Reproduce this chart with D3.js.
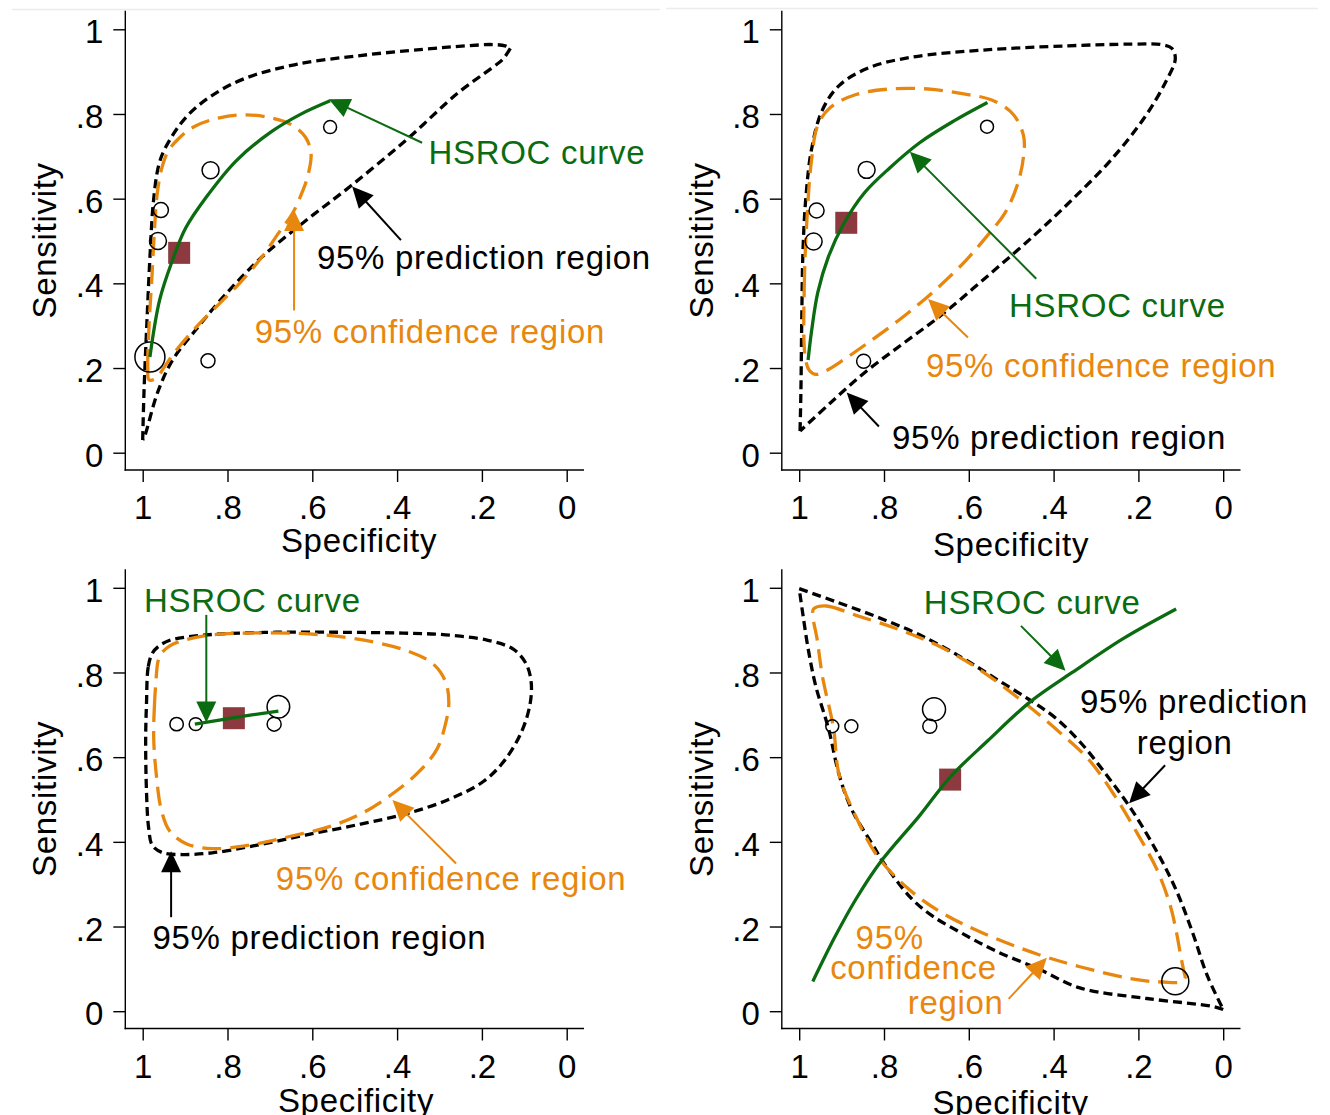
<!DOCTYPE html>
<html><head><meta charset="utf-8">
<script src="https://cdn.jsdelivr.net/npm/d3@7"></script>
<style>
html,body{margin:0;padding:0;background:#fff;}
svg{display:block;font-family:"Liberation Sans",Arial,sans-serif;}
</style></head><body>
<svg id="chart" width="1330" height="1115"></svg>
<script>
// ---------------- DATA ----------------
const tickValues = [0, 0.2, 0.4, 0.6, 0.8, 1];
const xTitle = "Specificity";
const yTitle = "Sensitivity";

// studies: [specificity, sensitivity, weight]
const p1Studies = [[0.983,0.226,225],[0.558,0.769,42],[0.840,0.667,72],[0.957,0.573,56],[0.964,0.500,72],[0.846,0.217,49]];
const p2Studies = [[0.557,0.770,42],[0.841,0.668,72],[0.959,0.572,56],[0.966,0.499,72],[0.848,0.216,49]];
const p3Studies = [[0.920,0.678,45],[0.875,0.678,42],[0.690,0.678,49],[0.680,0.719,128]];
const p4Studies = [[0.922,0.673,42],[0.877,0.673,42],[0.692,0.673,49],[0.682,0.713,132],[0.113,0.071,182]];

// summary points [specificity, sensitivity]
const p1Summary = [0.914, 0.472];
const p2Summary = [0.889, 0.543];
const p3Summary = [0.785, 0.692];
const p4Summary = [0.644, 0.547];

// HSROC curves
const p1Curve = [[0.983,0.226],[0.960,0.361],[0.930,0.454],[0.899,0.530],[0.849,0.605],[0.779,0.690],[0.698,0.757],[0.628,0.799],[0.558,0.831]];
const p2Curve = [[0.979,0.219],[0.971,0.286],[0.956,0.379],[0.931,0.463],[0.896,0.539],[0.846,0.614],[0.786,0.673],[0.716,0.732],[0.636,0.783],[0.556,0.827]];
const p3Curve = [[0.877,0.678],[0.780,0.694],[0.680,0.709]];
const p4Curve = [[0.968,0.070],[0.916,0.175],[0.866,0.265],[0.810,0.350],[0.716,0.462],[0.644,0.553],[0.556,0.638],[0.456,0.730],[0.356,0.800],[0.236,0.880],[0.111,0.950]];

// 95% confidence regions (closed)
const p1Conf = [[0.985,0.172],[0.988,0.200],[0.985,0.300],[0.978,0.420],[0.972,0.530],[0.966,0.610],[0.955,0.672],[0.940,0.712],[0.915,0.742],[0.879,0.770],[0.819,0.791],[0.759,0.798],[0.698,0.791],[0.648,0.774],[0.616,0.745],[0.603,0.707],[0.610,0.656],[0.626,0.610],[0.648,0.563],[0.678,0.521],[0.719,0.462],[0.769,0.403],[0.819,0.352],[0.869,0.302],[0.920,0.243],[0.950,0.201],[0.968,0.176]];
const p2Conf = [[0.986,0.227],[0.988,0.396],[0.981,0.564],[0.971,0.690],[0.956,0.774],[0.926,0.816],[0.866,0.846],[0.786,0.859],[0.696,0.859],[0.616,0.848],[0.546,0.833],[0.496,0.800],[0.471,0.749],[0.471,0.699],[0.486,0.631],[0.516,0.564],[0.556,0.513],[0.606,0.455],[0.676,0.387],[0.756,0.320],[0.836,0.261],[0.896,0.219],[0.936,0.194],[0.961,0.185],[0.976,0.194]];
const p3Conf = [[0.966,0.813],[0.972,0.728],[0.974,0.644],[0.968,0.560],[0.956,0.475],[0.936,0.425],[0.896,0.395],[0.836,0.384],[0.756,0.391],[0.656,0.412],[0.556,0.437],[0.476,0.471],[0.406,0.517],[0.346,0.568],[0.306,0.619],[0.286,0.678],[0.278,0.728],[0.286,0.779],[0.316,0.821],[0.376,0.851],[0.456,0.872],[0.556,0.887],[0.656,0.893],[0.756,0.893],[0.836,0.889],[0.896,0.878],[0.936,0.863],[0.956,0.845],[0.964,0.826]];
const p4Conf = [[0.966,0.950],[0.936,0.957],[0.866,0.935],[0.766,0.902],[0.666,0.860],[0.566,0.801],[0.466,0.726],[0.386,0.659],[0.316,0.593],[0.256,0.509],[0.206,0.426],[0.156,0.334],[0.125,0.250],[0.111,0.190],[0.100,0.130],[0.093,0.095],[0.090,0.078],[0.101,0.069],[0.142,0.069],[0.169,0.070],[0.224,0.078],[0.338,0.105],[0.436,0.134],[0.566,0.184],[0.666,0.234],[0.746,0.292],[0.816,0.367],[0.866,0.459],[0.906,0.559],[0.919,0.668],[0.945,0.790],[0.958,0.880],[0.968,0.935]];

// 95% prediction regions (as open edges between sharp tips)
const p1PredUpper = [[1.000,0.030],[0.997,0.142],[0.990,0.310],[0.982,0.479],[0.975,0.590],[0.962,0.680],[0.945,0.723],[0.899,0.791],[0.839,0.842],[0.759,0.884],[0.638,0.917],[0.487,0.938],[0.337,0.953],[0.236,0.961],[0.176,0.964],[0.145,0.961],[0.133,0.955]];
const p1PredLower = [[0.133,0.955],[0.150,0.930],[0.176,0.909],[0.256,0.850],[0.377,0.740],[0.508,0.631],[0.618,0.546],[0.719,0.462],[0.809,0.369],[0.879,0.285],[0.930,0.218],[0.965,0.142],[0.995,0.040],[1.000,0.030]];
const p2Pred = [[0.998,0.051],[0.996,0.143],[0.994,0.311],[0.991,0.480],[0.984,0.606],[0.971,0.716],[0.946,0.808],[0.906,0.867],[0.836,0.909],[0.736,0.934],[0.566,0.951],[0.366,0.961],[0.216,0.965],[0.146,0.964],[0.121,0.955],[0.113,0.930],[0.136,0.875],[0.186,0.791],[0.266,0.690],[0.356,0.598],[0.446,0.513],[0.556,0.417],[0.666,0.324],[0.756,0.257],[0.846,0.189],[0.926,0.118],[0.998,0.051]];
const p3Pred = [[0.977,0.846],[0.987,0.813],[0.991,0.728],[0.993,0.644],[0.991,0.517],[0.986,0.433],[0.977,0.391],[0.952,0.374],[0.906,0.370],[0.836,0.374],[0.736,0.391],[0.616,0.416],[0.486,0.442],[0.376,0.467],[0.276,0.501],[0.196,0.543],[0.146,0.593],[0.106,0.661],[0.086,0.728],[0.084,0.779],[0.096,0.821],[0.126,0.855],[0.186,0.876],[0.286,0.889],[0.386,0.893],[0.536,0.895],[0.686,0.895],[0.816,0.891],[0.896,0.884],[0.936,0.876],[0.961,0.863]];
const p4PredUpper = [[1.000,0.998],[0.916,0.968],[0.816,0.931],[0.716,0.889],[0.616,0.835],[0.536,0.785],[0.456,0.735],[0.396,0.693],[0.336,0.634],[0.276,0.559],[0.216,0.476],[0.156,0.376],[0.110,0.284],[0.072,0.185],[0.038,0.085],[0.000,0.004]];
const p4PredLower = [[0.000,0.004],[0.023,0.011],[0.180,0.030],[0.338,0.055],[0.436,0.100],[0.536,0.142],[0.616,0.184],[0.686,0.225],[0.736,0.267],[0.801,0.351],[0.826,0.392],[0.876,0.476],[0.906,0.559],[0.931,0.668],[0.961,0.768],[0.978,0.851],[0.991,0.935],[1.000,0.998]];

// annotation labels and arrows (in specificity/sensitivity units)
const p1Labels = [["HSROC curve","g",0.326,0.683],["95% prediction region","k",0.589,0.434],["95% confidence region","o",0.736,0.258]];
const p1Arrows = [["g",0.341,0.732,0.561,0.835],["k",0.391,0.502,0.506,0.629],["o",0.643,0.336,0.643,0.573]];
const p2Labels = [["HSROC curve","g",0.505,0.320],["95% confidence region","o",0.701,0.178],["95% prediction region","k",0.781,0.009]];
const p2Arrows = [["g",0.441,0.411,0.739,0.711],["o",0.602,0.272,0.696,0.363],["k",0.812,0.062,0.888,0.142]];
const p3Labels = [["HSROC curve","g",0.997,0.943],["95% confidence region","o",0.686,0.286],["95% prediction region","k",0.977,0.147]];
const p3Arrows = [["g",0.850,0.936,0.850,0.682],["o",0.261,0.349,0.411,0.499],["k",0.933,0.222,0.933,0.378]];
const p4Labels = [["HSROC curve","g",0.706,0.937],["95% prediction","k",0.338,0.705],["region","k",0.204,0.608],["95%","o",0.867,0.147],["confidence","o",0.927,0.075],["region","o",0.744,-0.006]];
const p4Arrows = [["g",0.477,0.910,0.372,0.804],["k",0.137,0.581,0.222,0.491],["o",0.506,0.029,0.416,0.126]];

// ---------------- DRAWING ----------------
const COLORS = {g:"#0b6b10", k:"#000000", o:"#e8870e"};
const SQUARE = "#8c3a40";
const FS = 33, LS = 0.7;

const panels = [
  {dx:0, dy:0, studies:p1Studies, summary:p1Summary, curve:p1Curve, conf:p1Conf, pred:[p1PredUpper,p1PredLower], labels:p1Labels, arrows:p1Arrows, xTitleX:359, xTitleY:551.5},
  {dx:656.5, dy:0, studies:p2Studies, summary:p2Summary, curve:p2Curve, conf:p2Conf, pred:[p2Pred], labels:p2Labels, arrows:p2Arrows, xTitleX:354.5, xTitleY:556},
  {dx:0, dy:558.5, studies:p3Studies, summary:p3Summary, curve:p3Curve, conf:p3Conf, predClosed:p3Pred, labels:p3Labels, arrows:p3Arrows, xTitleX:356, xTitleY:553},
  {dx:656.5, dy:558.5, studies:p4Studies, summary:p4Summary, curve:p4Curve, conf:p4Conf, pred:[p4PredUpper,p4PredLower], labels:p4Labels, arrows:p4Arrows, xTitleX:354, xTitleY:555}
];

const L = {x0:142.7, x1:566.7, y0:452.7, y1:29.3, axisX:125.3, axisY:470, axisTop:10.7, axisRight:584};
const svg = d3.select("#chart");

// faint top border lines
svg.append("line").attr("x1",12).attr("x2",660).attr("y1",9.5).attr("y2",9.5).attr("stroke","#ececec").attr("stroke-width",1.5);
svg.append("line").attr("x1",666).attr("x2",1318).attr("y1",8.5).attr("y2",8.5).attr("stroke","#ececec").attr("stroke-width",1.5);

const fmt = d => d === 0 ? "0" : d === 1 ? "1" : d3.format(".1f")(d).replace(/^0/, "");
const rScale = d3.scaleSqrt().domain([0, 225]).range([0, 15]);

function drawArrow(g, x1, y1, x2, y2, color) {
  const dx = x2 - x1, dy = y2 - y1, len = Math.hypot(dx, dy);
  const ux = dx / len, uy = dy / len, hl = 21, hw = 10;
  const bx = x2 - ux * hl, by = y2 - uy * hl;
  g.append("line").attr("x1", x1).attr("y1", y1).attr("x2", bx + ux*2).attr("y2", by + uy*2)
    .attr("stroke", color).attr("stroke-width", 2);
  g.append("path")
    .attr("d", `M${x2},${y2}L${bx - uy*hw},${by + ux*hw}L${bx + uy*hw},${by - ux*hw}Z`)
    .attr("fill", color);
}

panels.forEach(p => {
  const g = svg.append("g").attr("transform", `translate(${p.dx},${p.dy})`);
  const x = d3.scaleLinear().domain([1, 0]).range([L.x0, L.x1]);
  const y = d3.scaleLinear().domain([0, 1]).range([L.y0, L.y1]);

  // axes
  const ay = g.append("g").attr("transform", `translate(${L.axisX},0)`)
    .call(d3.axisLeft(y).tickValues(tickValues).tickSize(12).tickPadding(10).tickFormat(fmt));
  const ax = g.append("g").attr("transform", `translate(0,${L.axisY})`)
    .call(d3.axisBottom(x).tickValues(tickValues).tickSize(12).tickPadding(14).tickFormat(fmt));
  [ay, ax].forEach(a => {
    a.select(".domain").remove();
    a.attr("font-size", null).attr("font-family", null);
    a.selectAll("line").attr("stroke", "#000").attr("stroke-width", 1.4);
    a.selectAll("text").attr("font-size", FS).attr("fill", "#000");
  });
  ay.selectAll("text").attr("dy", "0.41em");
  g.append("line").attr("x1", L.axisX).attr("x2", L.axisX).attr("y1", L.axisTop).attr("y2", L.axisY + 0.7)
    .attr("stroke", "#000").attr("stroke-width", 1.4);
  g.append("line").attr("x1", L.axisX - 0.7).attr("x2", L.axisRight).attr("y1", L.axisY).attr("y2", L.axisY)
    .attr("stroke", "#000").attr("stroke-width", 1.4);

  // titles
  g.append("text").attr("x", p.xTitleX).attr("y", p.xTitleY).attr("text-anchor", "middle")
    .attr("font-size", FS).attr("letter-spacing", LS).text(xTitle);
  g.append("text").attr("transform", `translate(56,${(L.axisTop + L.axisY) / 2}) rotate(-90)`)
    .attr("text-anchor", "middle").attr("font-size", FS).attr("letter-spacing", LS).text(yTitle);

  const lineOpen = d3.line().x(d => x(d[0])).y(d => y(d[1])).curve(d3.curveCatmullRom.alpha(0.5));
  const lineClosed = d3.line().x(d => x(d[0])).y(d => y(d[1])).curve(d3.curveCatmullRomClosed.alpha(0.5));

  // prediction region
  if (p.pred) {
    p.pred.forEach(seg => g.append("path").attr("d", lineOpen(seg)).attr("fill", "none")
      .attr("stroke", "#000").attr("stroke-width", 3.3).attr("stroke-dasharray", "9,5"));
  } else {
    g.append("path").attr("d", lineClosed(p.predClosed)).attr("fill", "none")
      .attr("stroke", "#000").attr("stroke-width", 3.3).attr("stroke-dasharray", "9,5");
  }
  // confidence region
  g.append("path").attr("d", lineClosed(p.conf)).attr("fill", "none")
    .attr("stroke", COLORS.o).attr("stroke-width", 3.3).attr("stroke-dasharray", "19,9");

  // studies
  g.selectAll("circle.study").data(p.studies).join("circle").attr("class", "study")
    .attr("cx", d => x(d[0])).attr("cy", d => y(d[1])).attr("r", d => rScale(d[2]))
    .attr("fill", "none").attr("stroke", "#000").attr("stroke-width", 1.5);

  // summary point
  g.append("rect").attr("x", x(p.summary[0]) - 11).attr("y", y(p.summary[1]) - 11)
    .attr("width", 22).attr("height", 22).attr("fill", SQUARE);

  // HSROC curve
  g.append("path").attr("d", lineOpen(p.curve)).attr("fill", "none")
    .attr("stroke", COLORS.g).attr("stroke-width", 3.3);

  // annotations
  p.arrows.forEach(a => drawArrow(g, x(a[1]), y(a[2]), x(a[3]), y(a[4]), COLORS[a[0]]));
  p.labels.forEach(l => g.append("text").attr("x", x(l[2])).attr("y", y(l[3]))
    .attr("font-size", FS).attr("letter-spacing", LS).attr("fill", COLORS[l[1]]).text(l[0]));
});
</script>
</body></html>
